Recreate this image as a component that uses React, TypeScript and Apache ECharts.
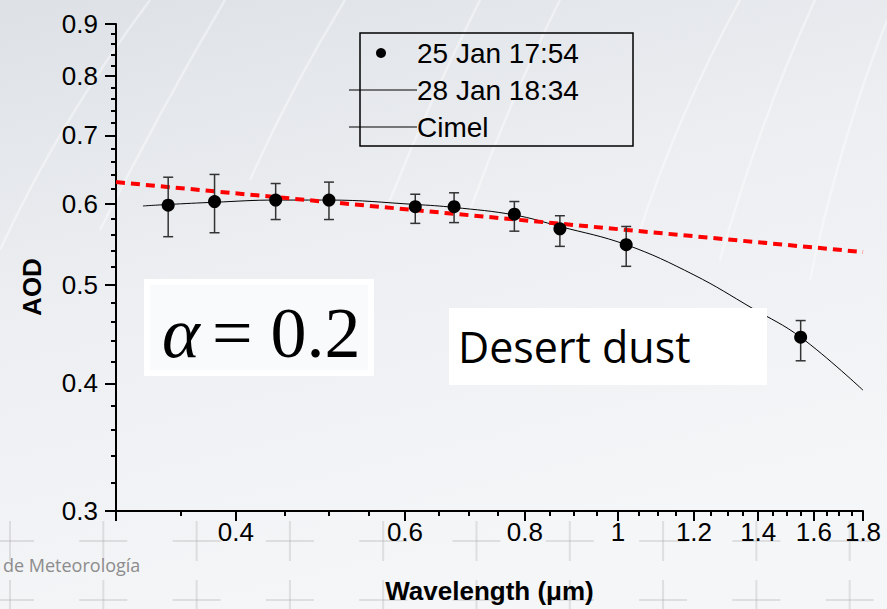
import React, { useEffect, useRef } from "react";
import * as echarts from "echarts";

// ---- data ----
const wavelengths = [0.34, 0.38, 0.44, 0.5, 0.615, 0.675, 0.78, 0.87, 1.02, 1.55];
const aod = [0.598, 0.603, 0.605, 0.605, 0.596, 0.596, 0.586, 0.567, 0.547, 0.444];
const errLow = [0.557, 0.562, 0.579, 0.579, 0.574, 0.575, 0.564, 0.545, 0.521, 0.421];
const errHigh = [0.637, 0.641, 0.628, 0.63, 0.613, 0.615, 0.603, 0.584, 0.57, 0.461];

const fitX = [0.32, 0.34, 0.38, 0.44, 0.5, 0.615, 0.675, 0.78, 0.87, 1.02, 1.2, 1.38, 1.55, 1.8];
const fitY = [0.597, 0.599, 0.602, 0.605, 0.605, 0.599, 0.595, 0.585, 0.57, 0.547, 0.511, 0.474, 0.444, 0.394];

const angX = [0.3, 1.8];
const angY = [0.63, 0.538];

const xMajor = [0.3, 0.4, 0.6, 0.8, 1.0, 1.2, 1.4, 1.6, 1.8];
const xLabels = [0.4, 0.6, 0.8, 1.0, 1.2, 1.4, 1.6, 1.8];
const xMinor = [0.35, 0.45, 0.5, 0.55, 0.65, 0.7, 0.75, 0.85, 0.9, 0.95, 1.05, 1.1, 1.15, 1.25, 1.3, 1.35, 1.45, 1.5, 1.55, 1.65, 1.7, 1.75];
const yMajor = [0.3, 0.4, 0.5, 0.6, 0.7, 0.8, 0.9];
const yMinor = [0.32, 0.34, 0.36, 0.38, 0.42, 0.44, 0.46, 0.48, 0.52, 0.54, 0.56, 0.58, 0.62, 0.64, 0.66, 0.68, 0.72, 0.74, 0.76, 0.78, 0.82, 0.84, 0.86, 0.88];

const xRange = [0.3, 1.8];
const yRange = [0.3, 0.9];

const legendItems = ["25 Jan 17:54", "28 Jan 18:34", "Cimel"];

const L = (v: number) => Math.log10(v);
const fmt = (v: number) => String(Math.round(Math.pow(10, v) * 100) / 100);

const SERIF = "'Liberation Serif', 'Times New Roman', Times, serif";

export default function App() {
  const ref = useRef<HTMLDivElement>(null);

  useEffect(() => {
    document.body.style.margin = "0";
    const chart = echarts.init(ref.current!, null, { renderer: "svg" });

    const axisFont = { fontFamily: "Liberation Sans", fontSize: 26, color: "#000" };

    const streaks = [
      [0, 250, 60, 120, 150, 0],
      [100, 230, 160, 110, 225, 0],
      [250, 180, 290, 90, 345, 0],
      [390, 200, 430, 100, 480, 0],
      [470, 210, 510, 100, 560, 0],
      [640, 230, 680, 110, 740, 0],
      [720, 260, 760, 120, 815, 0],
      [810, 280, 840, 140, 887, 20],
    ].map((s) => ({
      type: "bezierCurve",
      silent: true,
      z: -5,
      shape: { x1: s[0], y1: s[1], cpx1: s[2], cpy1: s[3], x2: s[4], y2: s[5] },
      style: { stroke: "rgba(255,255,255,0.4)", lineWidth: 2.5, fill: null },
    }));

    const crosses: any[] = [];
    [541, 600].forEach((cy) => {
      for (let k = 0; k < 10; k++) {
        const cx = 10 + 93.3 * k;
        crosses.push({
          type: "line", silent: true, z: -4,
          shape: { x1: cx - 24, y1: cy, x2: cx + 24, y2: cy },
          style: { stroke: "rgba(170,170,170,0.3)", lineWidth: 2 },
        });
        crosses.push({
          type: "line", silent: true, z: -4,
          shape: { x1: cx, y1: cy - 20, x2: cx, y2: cy + 20 },
          style: { stroke: "rgba(170,170,170,0.3)", lineWidth: 2 },
        });
      }
    });

    const legendY = [53, 90, 127];
    const legendGraphics: any[] = [
      {
        type: "rect", z: 100,
        shape: { x: 360, y: 33, width: 273, height: 113 },
        style: { fill: "rgba(0,0,0,0)", stroke: "#000", lineWidth: 1.5 },
      },
      { type: "circle", z: 100, shape: { cx: 381, cy: legendY[0], r: 5 }, style: { fill: "#000" } },
      { type: "line", z: 100, shape: { x1: 349, y1: legendY[1], x2: 417, y2: legendY[1] }, style: { stroke: "#000", lineWidth: 1 } },
      { type: "line", z: 100, shape: { x1: 349, y1: legendY[2], x2: 417, y2: legendY[2] }, style: { stroke: "#000", lineWidth: 1 } },
      ...legendItems.map((t, i) => ({
        type: "text", z: 100, x: 417, y: legendY[i],
        style: { text: t, fontFamily: "Liberation Sans", fontSize: 28, fill: "#000", textVerticalAlign: "middle", textAlign: "left" },
      })),
    ];

    const boxes: any[] = [
      {
        type: "rect", z: 90,
        shape: { x: 147, y: 282, width: 224, height: 91 },
        style: { fill: "#f9fafb", stroke: "#ffffff", lineWidth: 6 },
      },
      {
        type: "text", z: 100, x: 162, y: 333,
        style: { text: "α", font: "italic 72px " + SERIF, fill: "#000", textVerticalAlign: "middle" },
      },
      {
        type: "text", z: 100, x: 212, y: 333,
        style: { text: "= 0.2", font: "72px " + SERIF, fill: "#000", textVerticalAlign: "middle" },
      },
      {
        type: "rect", z: 90,
        shape: { x: 449, y: 308, width: 318, height: 77 },
        style: { fill: "#ffffff" },
      },
      {
        type: "text", z: 100, x: 458, y: 346,
        style: { text: "Desert dust", fontFamily: "Open Sans", fontSize: 43, fill: "#000", textVerticalAlign: "middle" },
      },
      {
        type: "text", z: 100, x: 3, y: 565,
        style: { text: "de Meteorología", fontFamily: "Open Sans", fontSize: 18, fill: "#8c8c8c", textVerticalAlign: "middle" },
      },
      {
        type: "text", z: 100, x: 32, y: 287, rotation: Math.PI / 2,
        style: {
          text: "AOD", fontFamily: "Liberation Sans", fontWeight: "bold", fontSize: 26, fill: "#000",
          textAlign: "center", textVerticalAlign: "middle",
        },
      },
    ];

    const option: any = {
      animation: false,
      backgroundColor: {
        type: "linear", x: 0, y: 0, x2: 0.35, y2: 1,
        colorStops: [
          { offset: 0, color: "#dde1e6" },
          { offset: 0.45, color: "#eceef1" },
          { offset: 1, color: "#f5f6f8" },
        ],
      },
      grid: { left: 116, right: 24, top: 24, bottom: 97 },
      xAxis: [
        {
          type: "value", position: "bottom",
          min: L(xRange[0]), max: L(xRange[1]),
          splitLine: { show: false },
          axisLine: { show: true, onZero: false, lineStyle: { color: "#000", width: 2 } },
          axisTick: { show: true, customValues: xMajor.map(L), length: 10, lineStyle: { color: "#000", width: 2 } },
          axisLabel: { customValues: xLabels.map(L), formatter: (v: number) => fmt(v), margin: 8, ...axisFont },
          name: "Wavelength (μm)", nameLocation: "middle", nameGap: 67,
          nameTextStyle: { fontFamily: "Liberation Sans", fontWeight: "bold", fontSize: 26, color: "#000" },
        },
        {
          type: "value", position: "bottom",
          min: L(xRange[0]), max: L(xRange[1]),
          splitLine: { show: false },
          axisLine: { show: false, onZero: false },
          axisTick: { show: true, customValues: xMinor.map(L), length: 5, lineStyle: { color: "#000", width: 2 } },
          axisLabel: { show: false },
        },
      ],
      yAxis: [
        {
          type: "value", position: "left",
          min: L(yRange[0]), max: L(yRange[1]),
          splitLine: { show: false },
          axisLine: { show: true, onZero: false, lineStyle: { color: "#000", width: 2 } },
          axisTick: { show: true, customValues: yMajor.map(L), length: 11, lineStyle: { color: "#000", width: 2 } },
          axisLabel: { customValues: yMajor.map(L), formatter: (v: number) => fmt(v), margin: 18, ...axisFont },
        },
        {
          type: "value", position: "left",
          min: L(yRange[0]), max: L(yRange[1]),
          splitLine: { show: false },
          axisLine: { show: false, onZero: false },
          axisTick: { show: true, customValues: yMinor.map(L), length: 5, lineStyle: { color: "#000", width: 2 } },
          axisLabel: { show: false },
        },
      ],
      series: [
        {
          name: "Cimel",
          type: "line",
          data: angX.map((x, i) => [L(x), L(angY[i])]),
          showSymbol: false,
          lineStyle: { color: "#ff0000", width: 4, type: [9, 6] },
          z: 3,
        },
        {
          name: "28 Jan 18:34",
          type: "line",
          data: fitX.map((x, i) => [L(x), L(fitY[i])]),
          smooth: 0.4,
          showSymbol: false,
          lineStyle: { color: "#000", width: 1 },
          z: 2,
        },
        {
          name: "error",
          type: "custom",
          data: wavelengths.map((w, i) => [L(w), L(errLow[i]), L(errHigh[i])]),
          encode: { x: 0, y: [1, 2] },
          renderItem: (params: any, api: any) => {
            const x = api.value(0);
            const pLo = api.coord([x, api.value(1)]);
            const pHi = api.coord([x, api.value(2)]);
            const w = 5;
            const style = { stroke: "#333", lineWidth: 1.5 };
            return {
              type: "group",
              children: [
                { type: "line", shape: { x1: pLo[0], y1: pLo[1], x2: pHi[0], y2: pHi[1] }, style },
                { type: "line", shape: { x1: pLo[0] - w, y1: pLo[1], x2: pLo[0] + w, y2: pLo[1] }, style },
                { type: "line", shape: { x1: pHi[0] - w, y1: pHi[1], x2: pHi[0] + w, y2: pHi[1] }, style },
              ],
            };
          },
          z: 4,
        },
        {
          name: "25 Jan 17:54",
          type: "scatter",
          data: wavelengths.map((w, i) => [L(w), L(aod[i])]),
          symbol: "circle",
          symbolSize: 13,
          itemStyle: { color: "#000", opacity: 1 },
          z: 5,
        },
      ],
      graphic: [...streaks, ...crosses, ...boxes, ...legendGraphics],
    };

    chart.setOption(option);
    return () => chart.dispose();
  }, []);

  return <div ref={ref} style={{ width: 887, height: 609 }} />;
}
